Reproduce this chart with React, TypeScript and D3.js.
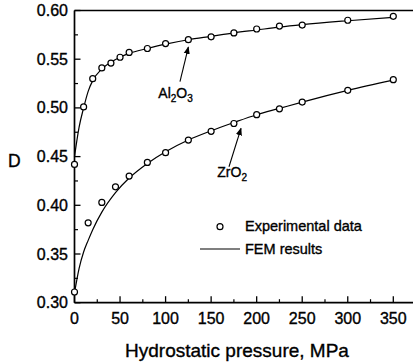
import React from "react";
import * as d3 from "d3";

// Experimental data (open circles)
const alP = [0, 10, 20, 30, 40, 50, 60, 80, 100, 125, 150, 175, 200, 225, 250, 300, 350];
const alD = [0.442, 0.501, 0.530, 0.541, 0.546, 0.552, 0.557, 0.561, 0.566, 0.570, 0.573, 0.577, 0.581, 0.584, 0.585, 0.590, 0.594];
const zrP = [0, 15, 30, 45, 60, 80, 100, 125, 150, 175, 200, 225, 250, 300, 350];
const zrD = [0.311, 0.382, 0.403, 0.419, 0.430, 0.444, 0.454, 0.467, 0.476, 0.484, 0.493, 0.499, 0.506, 0.518, 0.529];

// FEM results (solid curves)
const femAlP = [0, 5, 10, 15, 20, 30, 40, 50, 60, 80, 100, 125, 150, 175, 200, 225, 250, 300, 350];
const femAlD = [0.450, 0.480, 0.500, 0.517, 0.528, 0.540, 0.547, 0.552, 0.556, 0.561, 0.5655, 0.570, 0.5735, 0.577, 0.580, 0.583, 0.5855, 0.5895, 0.593];
const femZrP = [0, 5, 10, 15, 20, 30, 45, 60, 80, 100, 125, 150, 175, 200, 225, 250, 300, 350];
const femZrD = [0.310, 0.335, 0.352, 0.364, 0.375, 0.393, 0.413, 0.428, 0.443, 0.455, 0.467, 0.4765, 0.485, 0.493, 0.4995, 0.506, 0.518, 0.5285];

const xTicks = [0, 50, 100, 150, 200, 250, 300, 350];
const xMinor = [25, 75, 125, 175, 225, 275, 325];
const yTicks = [0.30, 0.35, 0.40, 0.45, 0.50, 0.55, 0.60];
const yMinor = [0.325, 0.375, 0.425, 0.475, 0.525, 0.575];

const W = 413, H = 363;
const FONT = "'Liberation Sans', Arial, Helvetica, sans-serif";
const TS = { stroke: "#000", strokeWidth: 0.35 };

export default function App() {
  const x = d3.scaleLinear().domain([0, 350]).range([74.5, 393.3]);
  const y = d3.scaleLinear().domain([0.30, 0.60]).range([302.7, 10.5]);
  const line = d3
    .line<[number, number]>()
    .x((d) => x(d[0]))
    .y((d) => y(d[1]))
    .curve(d3.curveMonotoneX);
  const alLine = line(femAlP.map((p, i) => [p, femAlD[i]] as [number, number])) || "";
  const zrLine = line(femZrP.map((p, i) => [p, femZrD[i]] as [number, number])) || "";
  const x0 = x(0), yb = y(0.30), yt = y(0.60);

  return (
    <svg width={W} height={H} style={{ position: "fixed", left: 0, top: 0, background: "#fff" }} fontFamily={FONT}>
      <defs>
        <marker id="ah" viewBox="0 0 10 10" refX="9" refY="5" markerWidth="7" markerHeight="7" orient="auto">
          <path d="M0,1 L10,5 L0,9 z" fill="#000" />
        </marker>
      </defs>
      {/* frame */}
      <line x1={x0} y1={yb} x2={W} y2={yb} stroke="#000" strokeWidth={1.7} />
      <line x1={x0} y1={yt} x2={W} y2={yt} stroke="#000" strokeWidth={1.7} />
      <line x1={x0} y1={yb} x2={x0} y2={yt} stroke="#000" strokeWidth={1.7} />
      {/* x ticks */}
      {xTicks.map((t) => (
        <g key={"xt" + t}>
          <line x1={x(t)} x2={x(t)} y1={yb} y2={yb - 6.5} stroke="#000" strokeWidth={1.3} />
          <text x={x(t)} y={323.5} fontSize={16} textAnchor="middle" {...TS}>{t}</text>
        </g>
      ))}
      {xMinor.map((t) => (
        <line key={"xm" + t} x1={x(t)} x2={x(t)} y1={yb} y2={yb - 3.5} stroke="#000" strokeWidth={1.2} />
      ))}
      {/* y ticks */}
      {yTicks.map((t) => (
        <g key={"yt" + t}>
          <line x1={x0} x2={x0 + 6} y1={y(t)} y2={y(t)} stroke="#000" strokeWidth={1.3} />
          <text x={68} y={y(t) + 5.5} fontSize={16} textAnchor="end" {...TS}>{t.toFixed(2)}</text>
        </g>
      ))}
      {yMinor.map((t) => (
        <line key={"ym" + t} x1={x0} x2={x0 + 3.5} y1={y(t)} y2={y(t)} stroke="#000" strokeWidth={1.2} />
      ))}
      {/* axis titles */}
      <text x={8} y={166.5} fontSize={17.5} {...TS}>D</text>
      <text x={237} y={356.5} fontSize={19} textAnchor="middle" {...TS}>Hydrostatic pressure, MPa</text>
      {/* FEM curves */}
      <path d={alLine} fill="none" stroke="#000" strokeWidth={1.2} />
      <path d={zrLine} fill="none" stroke="#000" strokeWidth={1.2} />
      {/* experimental points */}
      {alP.map((p, i) => (
        <circle key={"a" + i} cx={x(p)} cy={y(alD[i])} r={3} fill="#fff" stroke="#000" strokeWidth={1.2} />
      ))}
      {zrP.map((p, i) => (
        <circle key={"z" + i} cx={x(p)} cy={y(zrD[i])} r={3} fill="#fff" stroke="#000" strokeWidth={1.2} />
      ))}
      {/* annotations */}
      <line x1={x(115.8)} y1={y(0.527)} x2={x(125)} y2={y(0.5625)} stroke="#000" strokeWidth={1.1} markerEnd="url(#ah)" />
      <text x={x(92)} y={y(0.5105)} fontSize={14} {...TS}>
        Al<tspan fontSize={10} dy={4}>2</tspan><tspan dy={-4}>O</tspan><tspan fontSize={10} dy={4}>3</tspan>
      </text>
      <line x1={x(169.6)} y1={y(0.4396)} x2={x(182.8)} y2={y(0.479)} stroke="#000" strokeWidth={1.1} markerEnd="url(#ah)" />
      <text x={x(156.8)} y={y(0.429)} fontSize={14} {...TS}>
        ZrO<tspan fontSize={10} dy={4}>2</tspan>
      </text>
      {/* legend */}
      <circle cx={220} cy={226.7} r={3} fill="#fff" stroke="#000" strokeWidth={1.2} />
      <text x={245} y={231} fontSize={14.5} {...TS}>Experimental data</text>
      <line x1={200} x2={240} y1={249} y2={249} stroke="#000" strokeWidth={1.2} />
      <text x={245} y={254} fontSize={14.5} {...TS}>FEM results</text>
    </svg>
  );
}
